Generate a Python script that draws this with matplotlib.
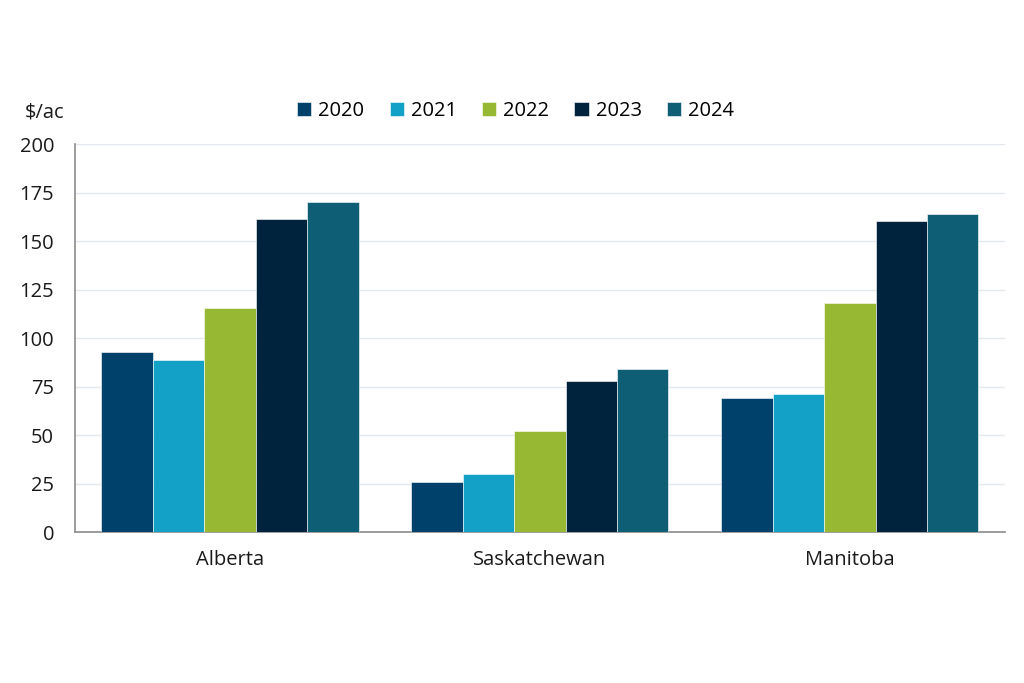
import numpy as np
import matplotlib.pyplot as plt

# provinces and yearly values ($/ac)
provinces = ["Alberta", "Saskatchewan", "Manitoba"]
years = ["2020", "2021", "2022", "2023", "2024"]
values_2020 = [92.8, 25.8, 69.0]
values_2021 = [88.7, 29.9, 71.1]
values_2022 = [115.5, 52.0, 118.0]
values_2023 = [161.3, 77.8, 160.3]
values_2024 = [170.1, 84.0, 163.9]
series = [values_2020, values_2021, values_2022, values_2023, values_2024]
colors = ["#00416B", "#13A1C8", "#97B832", "#00233D", "#0E5F75"]

plt.rcParams['font.family'] = ['Open Sans', 'DejaVu Sans']
fs = 14.5

fig = plt.figure(figsize=(10.24, 6.83), dpi=100)
ax = fig.add_axes([0.0732, 0.221, 0.908, 0.568])

x = np.arange(len(provinces))
width = 0.166
for i, vals in enumerate(series):
    ax.bar(x + (i - 2) * width, vals, width, color=colors[i], label=years[i],
           edgecolor="white", linewidth=0.4, zorder=3)

ax.set_xlim(-0.5, 2.5)
ax.set_ylim(0, 200)
ax.set_yticks(range(0, 201, 25))
ax.set_xticks(x)
ax.set_xticklabels(provinces)
ax.tick_params(axis="both", length=0, labelsize=fs, colors="#1a1a1a")
ax.tick_params(axis="x", pad=13)
ax.tick_params(axis="y", pad=15)
ax.grid(axis="y", color="#e3e8ee", linewidth=1, zorder=0)
for s in ["top", "right"]:
    ax.spines[s].set_visible(False)
ax.spines["left"].set_color("#8c8c8c")
ax.spines["bottom"].set_color("#8c8c8c")
ax.spines["left"].set_linewidth(1.2)
ax.spines["bottom"].set_linewidth(1.2)

fig.text(0.024, 0.836, "$/ac", fontsize=fs, color="#1a1a1a", va="center")

ax.legend(loc="center", bbox_to_anchor=(0.474, 1.085), ncol=5, frameon=False,
          fontsize=fs, handlelength=0.7, handleheight=0.7, handletextpad=0.35,
          columnspacing=1.25)

fig.savefig("out.png", dpi=100, facecolor="white")
